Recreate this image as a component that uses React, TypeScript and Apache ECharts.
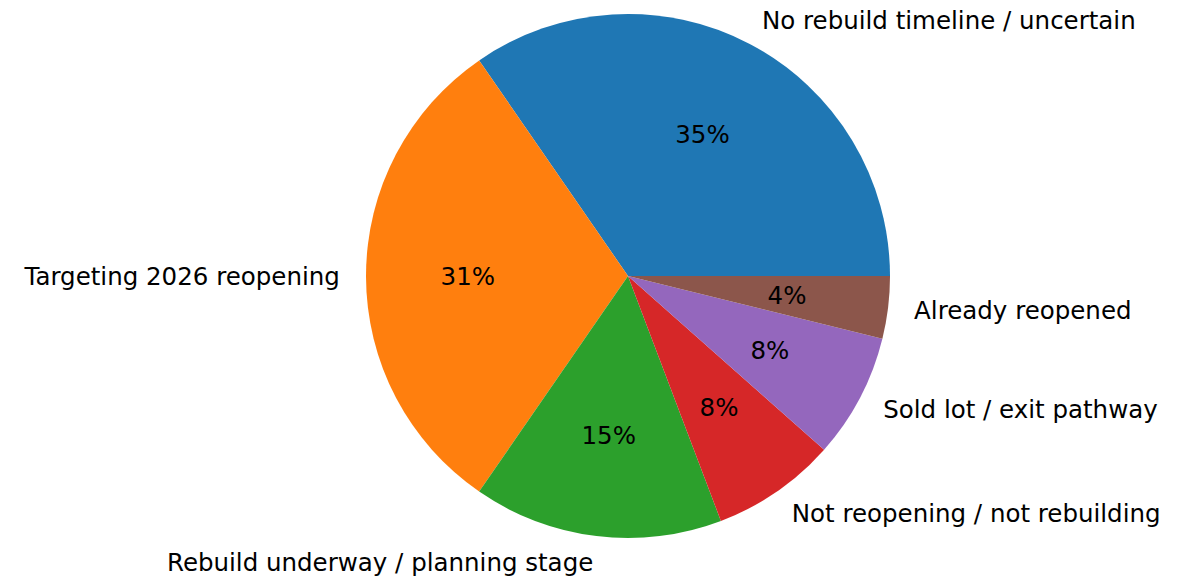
import React, { useEffect, useRef } from "react";
import * as echarts from "echarts";

const categories = [
  "No rebuild timeline / uncertain",
  "Targeting 2026 reopening",
  "Rebuild underway / planning stage",
  "Not reopening / not rebuilding",
  "Sold lot / exit pathway",
  "Already reopened",
];
const counts = [9, 8, 4, 2, 2, 1];
const colors = ["#1f77b4", "#ff7f0e", "#2ca02c", "#d62728", "#9467bd", "#8c564b"];

const CX = 628;
const CY = 276;
const R = 262;
const FONT = "DejaVu Sans";
const FS = 24.5;

export default function App() {
  const ref = useRef<HTMLDivElement>(null);
  useEffect(() => {
    if (!ref.current) return;
    const chart = echarts.init(ref.current, undefined, { renderer: "svg" });
    const total = counts.reduce((a, b) => a + b, 0);
    const data = categories.map((name, i) => ({
      name,
      value: counts[i],
      itemStyle: { color: colors[i] },
    }));
    chart.setOption({
      animation: false,
      backgroundColor: "#ffffff",
      series: [
        {
          type: "pie",
          center: [CX, CY],
          radius: [0, R],
          startAngle: 0,
          clockwise: false,
          avoidLabelOverlap: false,
          silent: true,
          data,
          label: {
            show: true,
            position: "outside",
            formatter: "{b}",
            fontFamily: FONT,
            fontSize: FS,
            color: "#000",
            distanceToLabelLine: 0,
          },
          labelLine: { show: false, length: R * 0.1, length2: 0 },
          itemStyle: { borderWidth: 0 },
        },
        {
          type: "pie",
          center: [CX, CY],
          radius: [0, R * 1.2],
          startAngle: 0,
          clockwise: false,
          avoidLabelOverlap: false,
          silent: true,
          z: 3,
          data: categories.map((name, i) => ({
            name,
            value: counts[i],
            itemStyle: { color: "rgba(0,0,0,0)" },
          })),
          label: {
            show: true,
            position: "inside",
            formatter: (p: any) => `${Math.round((p.value / total) * 100)}%`,
            fontFamily: FONT,
            fontSize: FS,
            color: "#000",
          },
          labelLine: { show: false },
          itemStyle: { borderWidth: 0 },
        },
      ],
    });
    return () => chart.dispose();
  }, []);
  return (
    <div
      ref={ref}
      style={{ position: "fixed", left: 0, top: 0, width: 1189, height: 576 }}
    />
  );
}
